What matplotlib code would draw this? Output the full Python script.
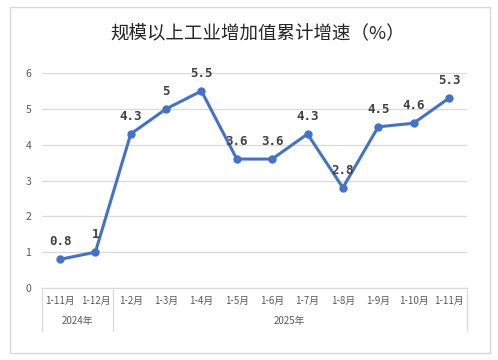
import matplotlib.pyplot as plt
from matplotlib.patches import Rectangle
from matplotlib.lines import Line2D
import matplotlib.transforms as mtransforms

plt.rcParams['font.family'] = ['Noto Sans CJK SC', 'DejaVu Sans']

# 数据
months = ['1-11月', '1-12月', '1-2月', '1-3月', '1-4月', '1-5月', '1-6月',
          '1-7月', '1-8月', '1-9月', '1-10月', '1-11月']
growth = [0.8, 1, 4.3, 5, 5.5, 3.6, 3.6, 4.3, 2.8, 4.5, 4.6, 5.3]
years = ['2024年', '2025年']
year_counts = [2, 10]
title = '规模以上工业增加值累计增速（%）'

fig = plt.figure(figsize=(4.98, 3.6), dpi=100)
fig.patches.append(Rectangle((0.02, 0.019), 0.964, 0.961, transform=fig.transFigure,
                             fill=False, edgecolor='#d9d9d9', linewidth=1))
ax = fig.add_axes([0.085, 0.2, 0.852, 0.597])

x = list(range(len(months)))
ax.plot(x, growth, color='#4472C4', linewidth=2.2, marker='o', markersize=5)
for i, v in enumerate(growth):
    ax.annotate(f'{v:g}', (i, v), xytext=(0, 8), textcoords='offset points',
                ha='center', va='bottom', fontsize=9, fontweight='bold',
                family='DejaVu Sans Mono', color='#404040')

ax.set_xlim(-0.5, len(months) - 0.5)
ax.set_ylim(0, 6)
ax.set_yticks(range(0, 7))
ax.tick_params(axis='y', length=0, labelsize=7.5, labelcolor='#595959', pad=8)
ax.set_xticks([])
ax.grid(axis='y', color='#d9d9d9', linewidth=0.9)
ax.set_axisbelow(True)
for s in ['top', 'right', 'left']:
    ax.spines[s].set_visible(False)
ax.spines['bottom'].set_color('#d9d9d9')

# 分类标签与年份分组
trans = mtransforms.blended_transform_factory(ax.transData, ax.transAxes)
for i, m in enumerate(months):
    ax.text(i, -0.06, m, transform=trans, ha='center', va='center',
            fontsize=7, color='#595959')
start = 0
for yr, n in zip(years, year_counts):
    ax.add_line(Line2D([start - 0.5, start - 0.5], [0, -0.2], transform=trans,
                       color='#d9d9d9', linewidth=0.9, clip_on=False))
    ax.text(start + (n - 1) / 2, -0.155, yr, transform=trans, ha='center',
            va='center', fontsize=7, color='#595959')
    start += n
ax.add_line(Line2D([start - 0.5, start - 0.5], [0, -0.2], transform=trans,
                   color='#d9d9d9', linewidth=0.9, clip_on=False))

fig.text(0.518, 0.905, title, ha='center', va='center', fontsize=13.3, color='#262626')

fig.savefig('out.png', dpi=100)
